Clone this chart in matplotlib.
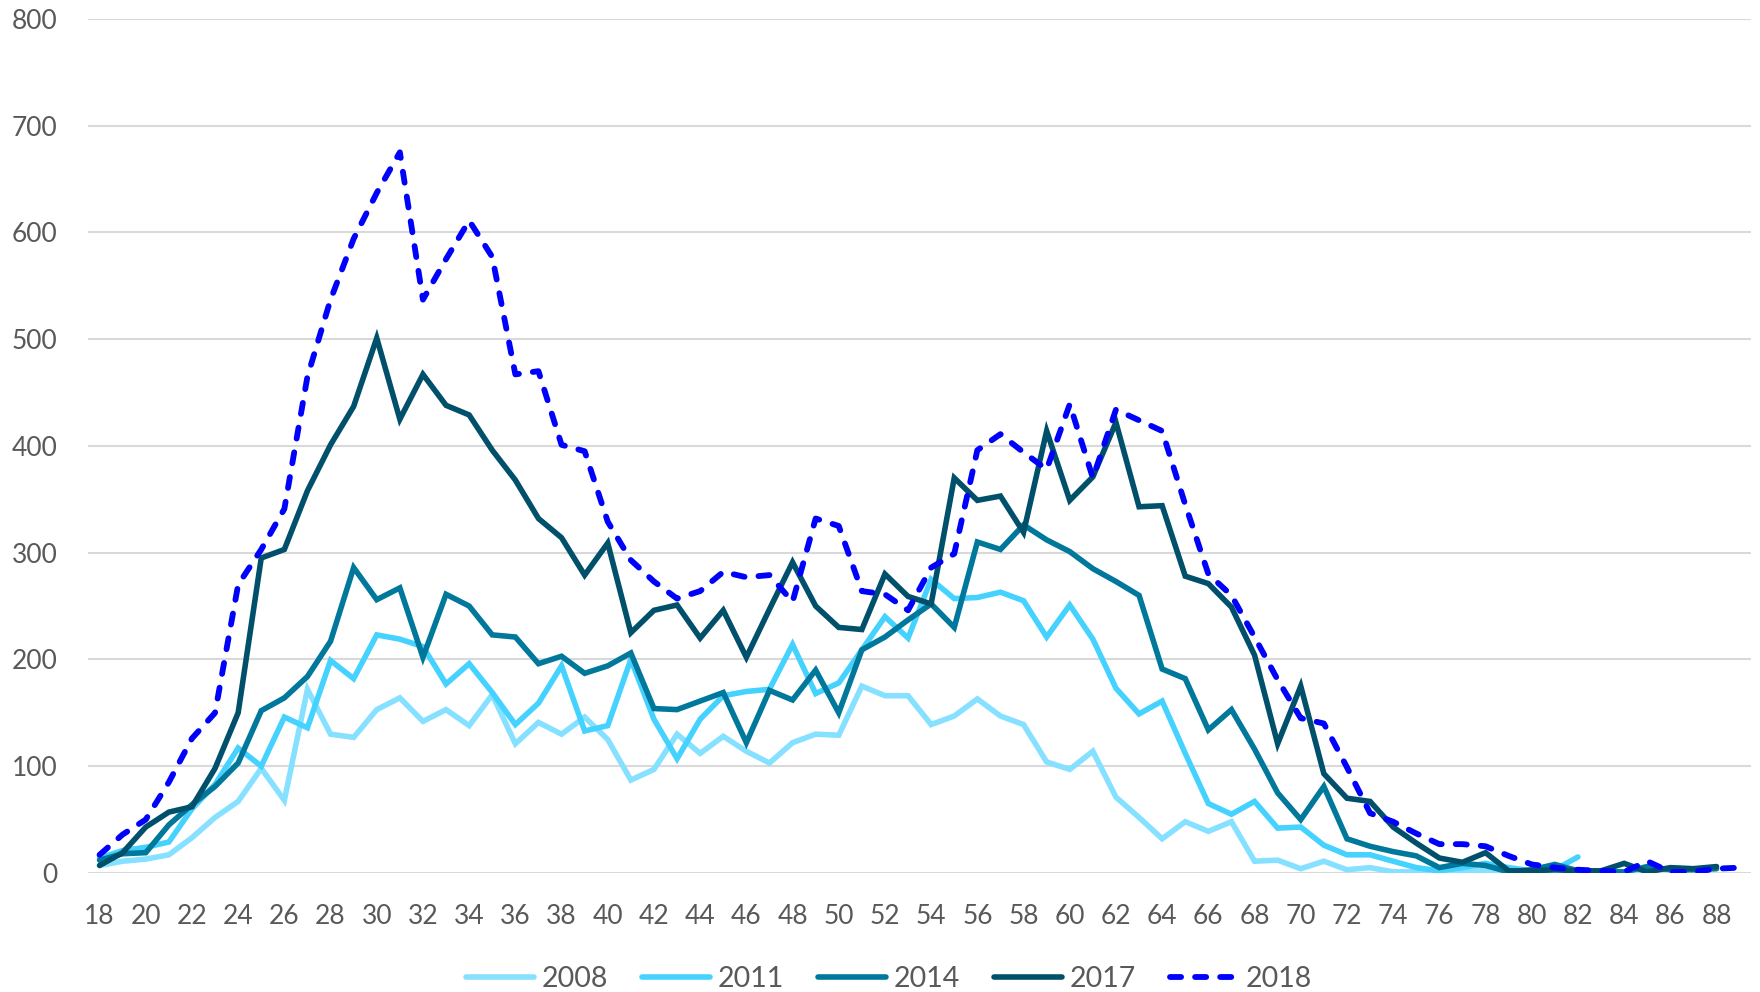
import matplotlib.pyplot as plt

# ages 18..89
ages = list(range(18, 90))

y2008 = [7, 11, 13, 17, 33, 52, 67, 98, 68, 172, 130, 127, 153, 164, 142, 153, 138, 167,
         121, 141, 130, 146, 125, 87, 97, 130, 112, 128, 114, 103, 122, 130, 129, 175, 166, 166,
         139, 147, 163, 147, 139, 104, 97, 114, 71, 52, 32, 48, 39, 48, 11, 12, 4, 11, 3,
         5, 1, 1, 1, 2, 2, 1, 1, 1, 1, 1, 1, 1]
y2011 = [14, 21, 24, 29, 60, 83, 117, 100, 146, 136, 199, 182, 223, 219, 212, 177, 196, 169,
         139, 159, 194, 133, 138, 200, 144, 107, 144, 166, 170, 172, 214, 168, 178, 209, 240, 220,
         275, 257, 258, 263, 255, 221, 251, 219, 173, 149, 161, 112, 65, 55, 67, 42, 43, 26, 17,
         17, 11, 5, 2, 5, 9, 5, 2, 3, 15]
y2014 = [12, 18, 19, 45, 64, 81, 103, 152, 164, 184, 217, 286, 256, 267, 202, 261, 250, 223,
         221, 196, 203, 187, 194, 206, 154, 153, 161, 169, 122, 171, 162, 190, 150, 209, 221, 237,
         252, 230, 310, 303, 326, 312, 301, 285, 273, 260, 191, 182, 134, 153, 116, 75, 50, 81, 32,
         25, 20, 16, 5, 9, 7, 1, 3, 8, 2, 1, 1, 6, 3, 3, 4]
y2017 = [7, 19, 43, 57, 62, 98, 150, 295, 303, 358, 401, 437, 501, 425, 467, 438, 429, 396,
         368, 332, 314, 279, 309, 225, 246, 251, 220, 246, 202, 247, 291, 250, 230, 228, 280, 259,
         252, 370, 349, 353, 319, 414, 349, 371, 422, 343, 344, 278, 271, 249, 204, 121, 175, 93, 70,
         67, 43, 28, 14, 10, 19, 2, 2, 3, 2, 2, 9, 1, 5, 4, 6]
y2018 = [17, 36, 50, 85, 126, 150, 270, 303, 341, 465, 537, 594, 637, 675, 537, 575, 611, 577,
         467, 470, 401, 395, 329, 293, 273, 257, 264, 282, 277, 279, 254, 332, 325, 264, 261, 246,
         286, 299, 396, 411, 394, 378, 439, 370, 434, 424, 414, 345, 280, 260, 221, 181, 145, 140, 99,
         56, 48, 37, 27, 27, 25, 16, 8, 5, 3, 2, 1, 11, 1, 1, 4, 5]

series = [("2008", y2008, "#86E0FF", "-"),
          ("2011", y2011, "#45D2FF", "-"),
          ("2014", y2014, "#00789C", "-"),
          ("2017", y2017, "#00506B", "-"),
          ("2018", y2018, "#0000FF", "--")]

plt.rcParams['font.family'] = ['Lato', 'DejaVu Sans']

fig = plt.figure(figsize=(17.6, 9.92), dpi=100)
ax = fig.add_axes([0.05, 0.12, 0.945, 0.861])

for name, vals, col, ls in series:
    if ls == "--":
        ax.plot(ages[:len(vals)], vals, color=col, linewidth=4.2, label=name,
                dashes=(1.9, 2.4), dash_capstyle='round')
    else:
        ax.plot(ages[:len(vals)], vals, color=col, linewidth=4.0, label=name,
                solid_joinstyle='miter', solid_capstyle='round')

ax.set_xlim(17.5, 89.5)
ax.set_ylim(0, 800)
ax.set_yticks(range(0, 801, 100))
ax.set_xticks(range(18, 89, 2))
ax.tick_params(axis='both', length=0, labelsize=19, colors='#595959', pad=22)
ax.grid(axis='y', color='#D9D9D9', linewidth=1.5)
ax.set_axisbelow(True)
for s in ax.spines.values():
    s.set_visible(False)

fig.legend(loc='center', ncol=5, frameon=False, fontsize=20.5, labelcolor='#595959',
           handlelength=2.4, columnspacing=1.2, handletextpad=0.25, bbox_to_anchor=(0.505, 0.013))

plt.savefig('out.png')
